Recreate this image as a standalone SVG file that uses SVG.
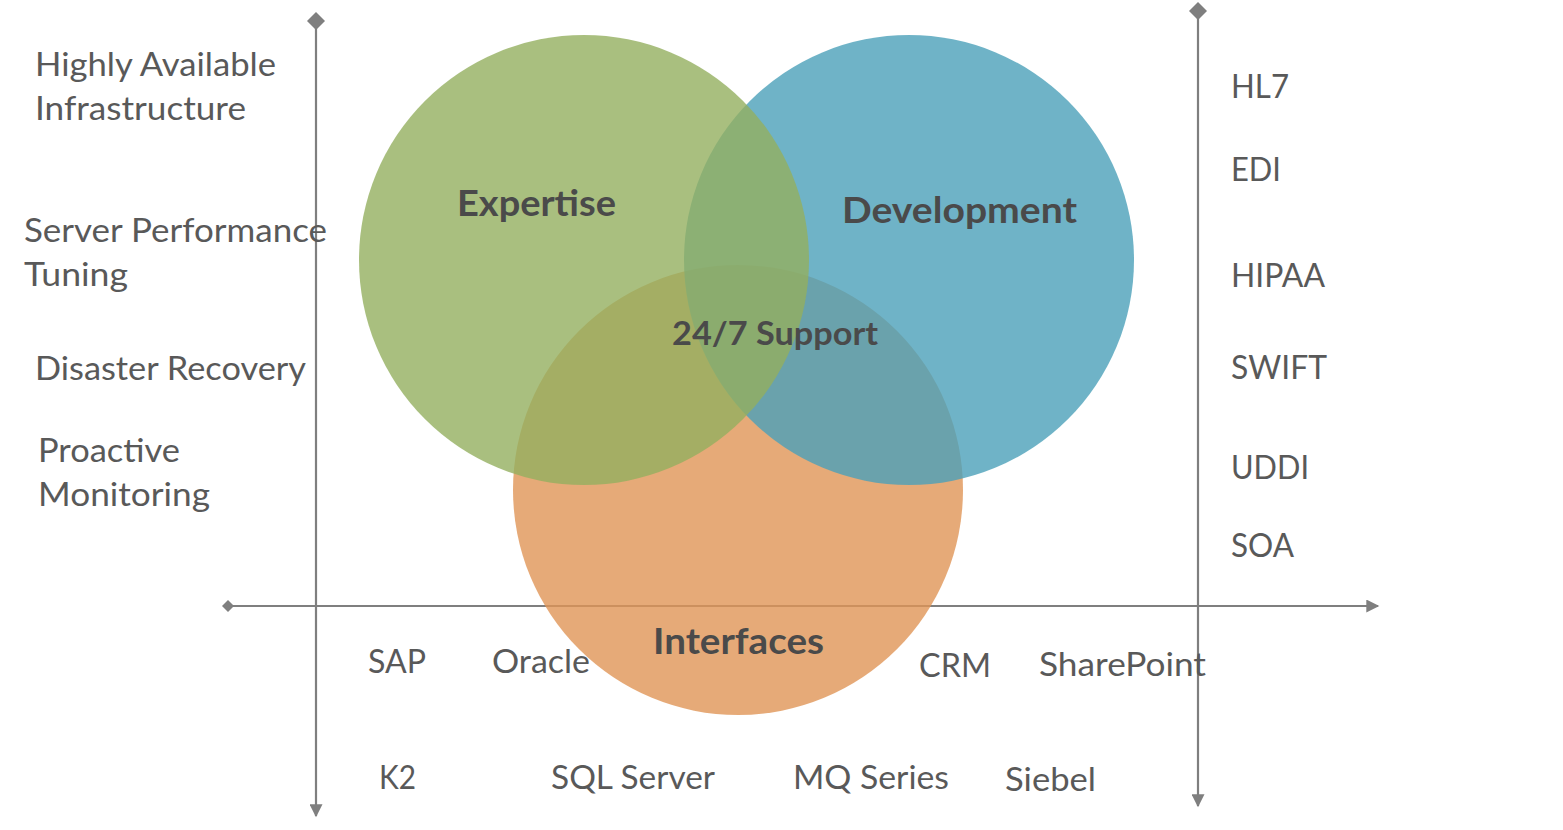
<svg xmlns="http://www.w3.org/2000/svg" width="1563" height="830" viewBox="0 0 1563 830">
<style>
.ax{stroke:#7f7f7f;stroke-width:2.2;fill:none}
.lbl{font-family:"Lato","Open Sans","Liberation Sans",sans-serif;font-size:32px;fill:#595959}
.big{font-family:"Lato","Open Sans","Liberation Sans",sans-serif;font-weight:bold;font-size:36px;fill:#4a4a4a}
</style>
<defs>
<marker id="dia" viewBox="0 0 10 10" refX="5" refY="5" markerWidth="12" markerHeight="12" markerUnits="userSpaceOnUse" orient="auto"><path d="M5 0L10 5L5 10L0 5Z" fill="#7f7f7f"/></marker>
<marker id="diaL" viewBox="0 0 10 10" refX="5" refY="5" markerWidth="18" markerHeight="18" markerUnits="userSpaceOnUse" orient="auto"><path d="M5 0L10 5L5 10L0 5Z" fill="#7f7f7f"/></marker>
<marker id="arr" viewBox="0 0 10 10" refX="9" refY="5" markerWidth="14" markerHeight="13" markerUnits="userSpaceOnUse" orient="auto"><path d="M0 0L10 5L0 10Z" fill="#7f7f7f"/></marker>
</defs>
<rect width="1563" height="830" fill="#ffffff"/>
<g id="connectors">
<line class="ax" x1="316" y1="21" x2="316" y2="816" marker-start="url(#diaL)" marker-end="url(#arr)"/>
<line class="ax" x1="1198" y1="11" x2="1198" y2="806" marker-start="url(#diaL)" marker-end="url(#arr)"/>
<line class="ax" x1="228" y1="606" x2="1378" y2="606" marker-start="url(#dia)" marker-end="url(#arr)"/>
</g>
<g id="interfaces"><circle cx="738" cy="490" r="225" fill="#e09556" fill-opacity="0.8"/></g>
<g id="development"><circle cx="909" cy="260" r="225" fill="#4ba0b9" fill-opacity="0.8"/></g>
<g id="expertise"><circle cx="584" cy="260" r="225" fill="#94af5f" fill-opacity="0.8"/></g>
<g id="circle-labels">
<text class="big" x="457" y="216" textLength="159" lengthAdjust="spacingAndGlyphs">Expertise</text>
<text class="big" x="842" y="223" textLength="235" lengthAdjust="spacingAndGlyphs">Development</text>
<text class="big" x="672" y="345" style="font-size:33px" textLength="206" lengthAdjust="spacingAndGlyphs">24/7 Support</text>
<text class="big" x="653" y="654" textLength="171" lengthAdjust="spacingAndGlyphs">Interfaces</text>
</g>
<g id="left-labels">
<text class="lbl" x="35" y="76" textLength="241" lengthAdjust="spacingAndGlyphs">Highly Available</text>
<text class="lbl" x="35" y="120" textLength="211" lengthAdjust="spacingAndGlyphs">Infrastructure</text>
<text class="lbl" x="24" y="242" textLength="303" lengthAdjust="spacingAndGlyphs">Server Performance</text>
<text class="lbl" x="24" y="286" textLength="104" lengthAdjust="spacingAndGlyphs">Tuning</text>
<text class="lbl" x="35" y="380" textLength="271" lengthAdjust="spacingAndGlyphs">Disaster Recovery</text>
<text class="lbl" x="38" y="462" textLength="142" lengthAdjust="spacingAndGlyphs">Proactive</text>
<text class="lbl" x="38" y="506" textLength="172" lengthAdjust="spacingAndGlyphs">Monitoring</text>
</g>
<g id="right-labels">
<text class="lbl" x="1231" y="98" textLength="58" lengthAdjust="spacingAndGlyphs">HL7</text>
<text class="lbl" x="1231" y="181" textLength="50" lengthAdjust="spacingAndGlyphs">EDI</text>
<text class="lbl" x="1231" y="287" textLength="94" lengthAdjust="spacingAndGlyphs">HIPAA</text>
<text class="lbl" x="1231" y="379" textLength="96" lengthAdjust="spacingAndGlyphs">SWIFT</text>
<text class="lbl" x="1231" y="479" textLength="78" lengthAdjust="spacingAndGlyphs">UDDI</text>
<text class="lbl" x="1231" y="557" textLength="63" lengthAdjust="spacingAndGlyphs">SOA</text>
</g>
<g id="bottom-labels">
<text class="lbl" x="368" y="673" textLength="58" lengthAdjust="spacingAndGlyphs">SAP</text>
<text class="lbl" x="492" y="673" textLength="98" lengthAdjust="spacingAndGlyphs">Oracle</text>
<text class="lbl" x="919" y="677" textLength="72" lengthAdjust="spacingAndGlyphs">CRM</text>
<text class="lbl" x="1039" y="676" textLength="167" lengthAdjust="spacingAndGlyphs">SharePoint</text>
<text class="lbl" x="379" y="789" textLength="37" lengthAdjust="spacingAndGlyphs">K2</text>
<text class="lbl" x="551" y="789" textLength="164" lengthAdjust="spacingAndGlyphs">SQL Server</text>
<text class="lbl" x="793" y="789" textLength="156" lengthAdjust="spacingAndGlyphs">MQ Series</text>
<text class="lbl" x="1005" y="791" textLength="91" lengthAdjust="spacingAndGlyphs">Siebel</text>
</g>
</svg>
